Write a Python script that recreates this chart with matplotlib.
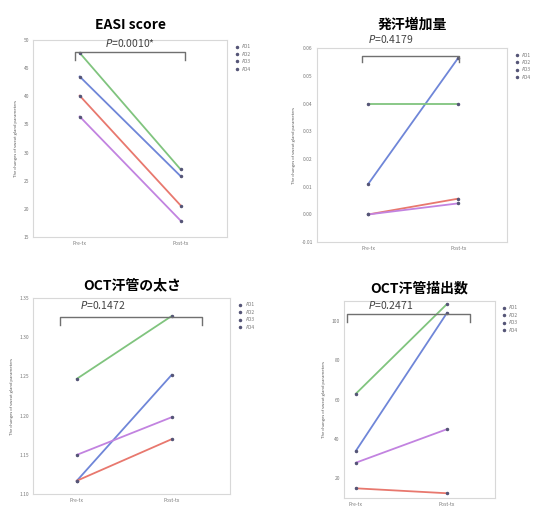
import matplotlib
matplotlib.use('Agg')
import matplotlib.pyplot as plt

plt.rcParams['font.family'] = ['Noto Sans CJK JP', 'DejaVu Sans']

times = ['Pre-tx', 'Post-tx']
patients = ['AD1', 'AD2', 'AD3', 'AD4']
colors = ['#6f86d8', '#e8786e', '#80c47e', '#c283e0']

titles = ['EASI score', '発汗増加量', 'OCT汗管の太さ', 'OCT汗管描出数']
pvals = ['$P$=0.0010*', '$P$=0.4179', '$P$=0.1472', '$P$=0.2471']

easi = {'AD1': [43.5, 25.8], 'AD2': [40.1, 20.6], 'AD3': [47.7, 27.0], 'AD4': [36.4, 17.9]}
sweat = {'AD1': [0.011, 0.0565], 'AD2': [0.000, 0.0057], 'AD3': [0.040, 0.040], 'AD4': [0.000, 0.0040]}
thick = {'AD1': [1.117, 1.252], 'AD2': [1.117, 1.170], 'AD3': [1.247, 1.327], 'AD4': [1.150, 1.198]}
count = {'AD1': [34, 104], 'AD2': [15, 12.5], 'AD3': [63, 108.5], 'AD4': [28, 45]}
datasets = [easi, sweat, thick, count]

yticks = [[15, 20, 25, 30, 35, 40, 45, 50],
          [-0.01, 0.0, 0.01, 0.02, 0.03, 0.04, 0.05, 0.06],
          [1.10, 1.15, 1.20, 1.25, 1.30, 1.35],
          [20, 40, 60, 80, 100]]
ylims = [(15, 50), (-0.01, 0.06), (1.10, 1.35), (10, 110)]
xlims = [(-0.46, 1.46), (-0.57, 1.54), (-0.46, 1.62), (-0.13, 1.53)]
rects = [[0.060, 0.537, 0.350, 0.385],
         [0.572, 0.527, 0.343, 0.379],
         [0.060, 0.035, 0.356, 0.383],
         [0.621, 0.027, 0.273, 0.385]]
brackets = [(-0.045, 1.04, 47.8, 46.5), (-0.07, 1.01, 0.057, 0.055),
            (-0.18, 1.32, 1.326, 1.316), (-0.10, 1.25, 103.4, 99.5)]
ptext = [(0.50, 0.985), (0.39, 1.046), (0.35, 0.964), (0.31, 0.98)]
title_pad = [8, 14, 6, 6]
fmts = ['{:.0f}', '{:.2f}', '{:.2f}', '{:.0f}']

fig = plt.figure(figsize=(5.54, 5.12), dpi=100)
for i in range(4):
    ax = fig.add_axes(rects[i])
    data = datasets[i]
    for p, c in zip(patients, colors):
        ax.plot([0, 1], data[p], color=c, lw=1.3, marker='.', ms=3,
                mfc='#555577', mec='#555577', label=p)
    ax.set_xlim(*xlims[i])
    ax.set_ylim(*ylims[i])
    ax.set_xticks([0, 1])
    ax.set_xticklabels(times, fontsize=3.5, color='#777777')
    ax.set_yticks(yticks[i])
    ax.set_yticklabels([fmts[i].format(v) for v in yticks[i]], fontsize=3.5, color='#777777')
    ax.tick_params(length=0, pad=3)
    for s in ax.spines.values():
        s.set_color('#d8d8d8')
        s.set_linewidth(0.8)
    ax.set_ylabel('The changes of sweat gland parameters', fontsize=3, color='#555555')
    ax.set_title(titles[i], fontsize=10, fontweight='bold', pad=title_pad[i])
    x0, x1, yb, yd = brackets[i]
    ax.plot([x0, x0, x1, x1], [yd, yb, yb, yd], color='#707070', lw=1.0, clip_on=False)
    ax.text(ptext[i][0], ptext[i][1], pvals[i], transform=ax.transAxes,
            ha='center', va='center', fontsize=7.5, color='#444444')
    leg = ax.legend(loc='upper left', bbox_to_anchor=(1.02, 1.0), fontsize=3.5,
                    frameon=False, handlelength=0.6, labelcolor='#777777')
    for h in leg.legend_handles:
        h.set_linestyle('none')

fig.savefig('out.png', dpi=100)
